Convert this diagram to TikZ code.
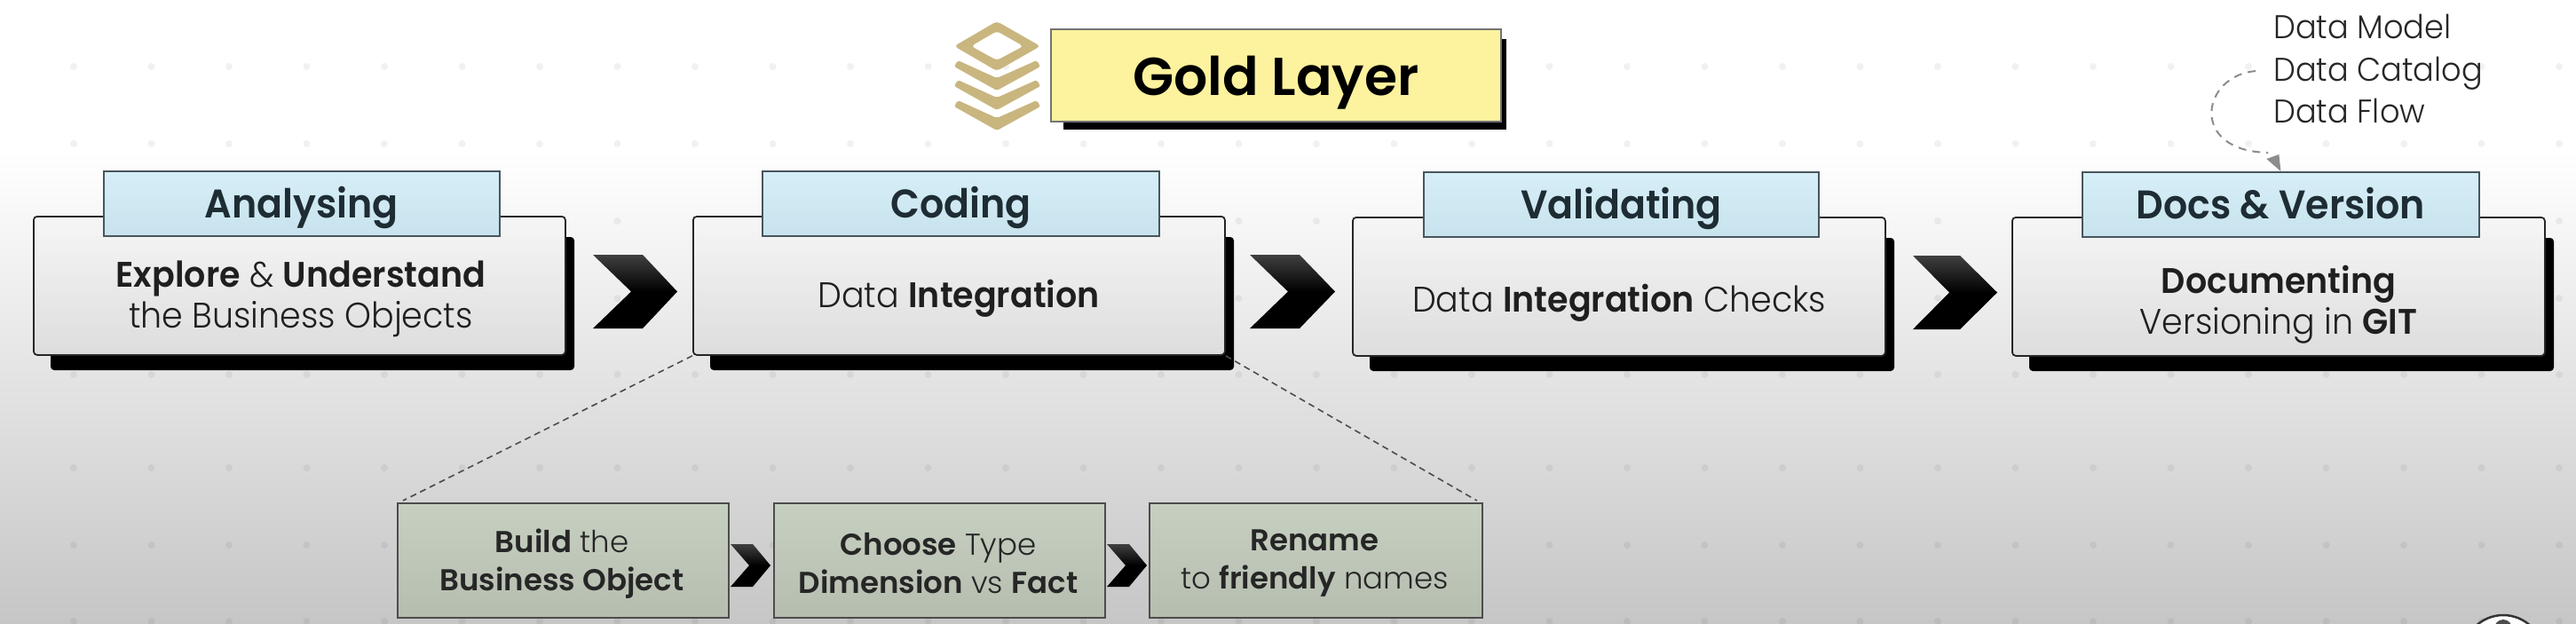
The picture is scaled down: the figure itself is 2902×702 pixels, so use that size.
\documentclass[tikz,border=0pt]{standalone}
\usepackage{fontspec}
\setmainfont{Poppins}
\newfontfamily\flight[FakeStretch=0.95]{Poppins Light}
\newfontfamily\fsemi[FakeStretch=0.95]{Poppins SemiBold}
\newfontfamily\fgold{Poppins SemiBold}
\newfontfamily\fsublight{Poppins Light}
\newfontfamily\fsubsemi{Poppins SemiBold}
\newfontfamily\fhand[FakeStretch=0.95]{Poppins Light}
\newcommand{\bo}[1]{{\fsemi #1}}
\newcommand{\bs}[1]{{\fsubsemi #1}}
\definecolor{tabline}{HTML}{47565C}
\definecolor{tabtop}{HTML}{D6EEF7}
\definecolor{tabbot}{HTML}{C8E3EE}
\definecolor{headtxt}{HTML}{1E2C33}
\definecolor{boxtop}{HTML}{F6F6F6}
\definecolor{boxbot}{HTML}{DDDDDD}
\definecolor{goldf}{HTML}{FDF29E}
\definecolor{goldi}{HTML}{C9B67F}
\definecolor{subtop}{HTML}{C6D0C1}
\definecolor{subbot}{HTML}{B5BDAF}
\definecolor{bgbot}{HTML}{C6C6C6}
\tikzset{
  mainbox/.style={draw=black!85,line width=1.8pt,rounded corners=4pt,top color=boxtop,bottom color=boxbot,inner sep=0pt,anchor=north west},
  tabbox/.style={draw=tabline,line width=1.8pt,top color=tabtop,bottom color=tabbot,inner sep=0pt,text=headtxt,text height=37pt,text depth=4pt,font=\fontsize{45}{54}\selectfont\fsemi,anchor=north west},
  shadowbox/.style={fill=black,rounded corners=4pt},
  bodytxt/.style={inner sep=0pt,align=center,text=black!88,font=\fontsize{40}{46.5}\selectfont\flight},
  subbox/.style={draw=black!70,line width=1.8pt,top color=subtop,bottom color=subbot,inner sep=0pt,anchor=north west,minimum height=129pt},
  subtxt/.style={inner sep=0pt,align=center,text=black!85,font=\fontsize{34}{43}\selectfont\fsublight},
  guide/.style={draw=black!70,line width=1.6pt,dash pattern=on 7pt off 5pt},
  handtxt/.style={inner sep=0pt,anchor=base west,text=black!85,font=\fontsize{37}{44}\selectfont\fhand},
}
\newcommand{\chev}[6]{% x0 xnotch xtop xtip y0 y1
  \path[top color=black!75,bottom color=black,middle color=black]
    (#1,#5) -- (#3,#5) -- (#4,{(#5+#6)/2}) -- (#3,#6) -- (#1,#6) -- (#2,{(#5+#6)/2}) -- cycle;
}
\newcommand{\stagebox}[7]{% name x0 x1 tabx0 tabx1 title yoffset
  \fill[shadowbox] ({#2+20},{267+#7}) rectangle ({#3+11},{417+#7});
  \node[mainbox,minimum width={(#3-#2)*1pt},minimum height=156pt] (#1) at (#2,{243+#7}) {};
  \node[tabbox,minimum width={(#5-#4)*1pt},minimum height=73pt] (#1tab) at (#4,{192+#7}) {#6};
}
\begin{document}
\begin{tikzpicture}[x=1pt,y=-1pt]
\useasboundingbox (0,0) rectangle (2902,702);
\begin{scope}
\clip (0,0) rectangle (2902,702);
\fill[white] (0,0) rectangle (2902,171);
\fill[top color=white,bottom color=bgbot] (0,170) rectangle (2902,702);
% background dots
\foreach \yy in {75,162,249,336,422,527,614,700}
  \foreach \k in {0,...,33}
    \fill[black,opacity=.055] ({-4.5+87.5*\k},\yy) circle (4pt);
% avatar
\fill[white,draw=black!80,line width=2.5pt] (2820,738) circle (45pt);
\fill[black!70] (2820,708) circle (10pt);
\end{scope}

% title
\fill[black] (1198,44) rectangle (1697,146);
\node[draw=black!55,line width=1.8pt,fill=goldf,inner sep=0pt,minimum width=507pt,minimum height=104pt,anchor=north west,
  text height=46pt,text depth=0pt,font=\fontsize{60}{70}\selectfont\fgold,text=black] (gold) at (1183,32) {Gold Layer};
% icon
\fill[goldi,even odd rule,rounded corners=4pt] (1123,24) -- (1172,52) -- (1123,80) -- (1075,52) -- cycle
  (1123,35) -- (1153,52) -- (1123,68) -- (1094,52) -- cycle;
\foreach \t in {102,124,147}
  \fill[goldi,rounded corners=2pt] (1123,\t) -- (1172,{\t-27}) -- (1168,{\t-34}) -- (1123,{\t-14}) -- (1079,{\t-34}) -- (1075,{\t-27}) -- cycle;

% stages
\stagebox{analysing}{37}{636}{116}{562}{Analysing}{0}
\stagebox{coding}{780}{1379}{858}{1305}{Coding}{0}
\stagebox{validating}{1523}{2123}{1603}{2048}{Validating}{1}
\stagebox{docs}{2266}{2866}{2345}{2792}{Docs \& Version}{1}

\node[bodytxt] (t1) at (339,337) {\bo{Explore} \& \bo{Understand}\\the Business Objects};
\node[bodytxt] (t2) at (1080,336) {Data \bo{Integration}};
\node[bodytxt] (t3) at (1824,341) {Data \bo{Integration} Checks};
\node[bodytxt] (t4) at (2567,343) {\bo{Documenting}\\Versioning in \bo{GIT}};

% chevrons
\chev{668}{711}{724}{763}{287}{370}
\chev{1408}{1451}{1464}{1504}{287}{370}
\chev{2155}{2196}{2208}{2250}{288}{371}

% sub boxes
\node[subbox,minimum width=373pt] (s1) at (447,566) {};
\node[subbox,minimum width=373pt] (s2) at (871,566) {};
\node[subbox,minimum width=375pt] (s3) at (1294,566) {};
\node[subtxt] (st1) at (633,635) {\bs{Build} the\\\bs{Business Object}};
\node[subtxt] (st2) at (1057,635) {\bs{Choose} Type\\\bs{Dimension} vs \bs{Fact}};
\node[subtxt] (st3) at (1481,635) {\bs{Rename}\\to \bs{friendly} names};
\chev{823}{844}{848}{868}{613}{661}
\chev{1247}{1268}{1272}{1292}{613}{661}

\draw[guide] (coding.south west) -- ([xshift=7pt,yshift=2pt]s1.north west);
\draw[guide] (coding.south east) -- ([xshift=-7pt,yshift=2pt]s3.north east);

% hand notes
\node[handtxt] (h1) at (2561,43) {Data Model};
\node[handtxt] (h2) at (2561,91) {Data Catalog};
\node[handtxt] (h3) at (2561,138) {Data Flow};
\coordinate (harrow) at (2541,80);
\draw[black!45,line width=2pt,dash pattern=on 9pt off 7pt] (harrow) .. controls (2480,85) and (2465,170) .. (2555,172);
\fill[black!45] (docstab.north) -- ++(-16,-14) -- ++(14,-5) -- cycle;
\end{tikzpicture}
\end{document}
